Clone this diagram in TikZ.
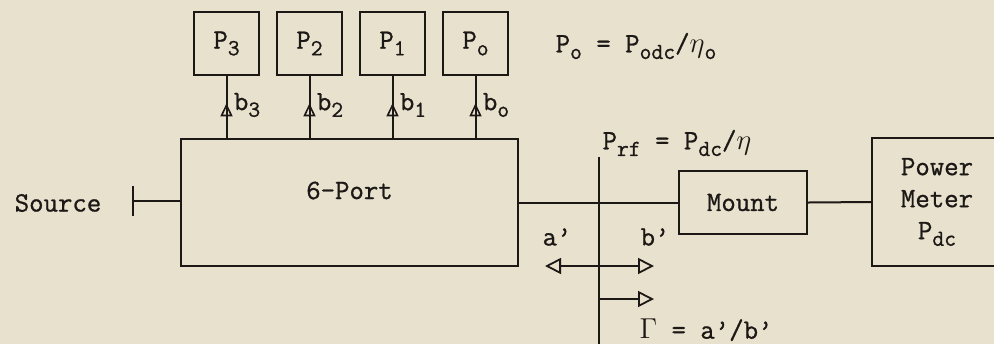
\documentclass[tikz,border=0pt]{standalone}
\usepackage{fontspec}
\setmonofont{Latin Modern Mono}[FakeBold=0.9]
\usepackage{tikz}
\usetikzlibrary{arrows.meta, positioning, calc}

\definecolor{paper}{RGB}{232,225,205}
\definecolor{ink}{RGB}{28,24,22}
\newcommand{\lowtxt}[1]{\raisebox{-0.55ex}{\fontsize{11.5}{13}\selectfont #1}}

\begin{document}
\begin{tikzpicture}[
    x=0.5pt, y=-0.5pt,
    color=ink,
    font=\ttfamily\fontsize{14}{16}\selectfont,
    box/.style={rectangle, draw, line width=1pt, inner sep=0pt, text centered},
    pbox/.style={box, minimum width=32.5pt, minimum height=31.5pt},
    wire/.style={line width=1pt},
    tri/.tip={Triangle[open, length=8pt, width=8pt, line width=0.9pt]},
    smalltri/.tip={Triangle[open, length=6.5pt, width=6pt, line width=0.8pt]},
    bnode/.style={anchor=west, inner sep=1pt}
]
    \clip (0,0) rectangle (994,344);
    \fill[paper] (0,0) rectangle (994,344);

    % six-port and detectors
    \node [box, minimum width=168.5pt, minimum height=63.5pt,
           label={[yshift=6pt]center:6-Port}] (port) at (349.5,202.5) {};
    \node [pbox] (p3) at (226.5,43.5) {P\lowtxt{3}};
    \node [pbox, right=8pt of p3] (p2) {P\lowtxt{2}};
    \node [pbox, right=8pt of p2] (p1) {P\lowtxt{1}};
    \node [pbox, right=8pt of p1] (p0) {P\lowtxt{o}};
    \node (p0eq) at (636,46) {P\lowtxt{o} = P\lowtxt{odc}/$\eta$\lowtxt{o}};

    \foreach \p in {p3, p2, p1, p0} {
        \draw [wire] (\p.south |- port.north) -- (\p.south);
        \draw [wire, -smalltri] (\p.south |- port.north) -- ($(\p.south |- port.north)!0.56!(\p.south)$);
    }
    \node [bnode] (b3) at ($(p3.south)+(5,29)$) {b\lowtxt{3}};
    \node [bnode] (b2) at ($(p2.south)+(5,29)$) {b\lowtxt{2}};
    \node [bnode] (b1) at ($(p1.south)+(5,29)$) {b\lowtxt{1}};
    \node [bnode] (b0) at ($(p0.south)+(5,29)$) {b\lowtxt{o}};

    % source side
    \node (source) at (58,203) {Source};
    \coordinate (srcend) at (132,201);
    \draw [wire, {Bar[width=15pt, line width=1pt]}-] (srcend) -- (srcend -| port.west);

    % mount and power meter
    \node [box, minimum width=64pt, minimum height=31.5pt] (mount) at (743,202.5) {Mount};
    \node [box, minimum width=65pt, minimum height=64pt, align=center] (meter) at (937,202)
        {Power\\Meter\\P\lowtxt{dc}};
    \draw [wire] (port.east) -- (mount.west);
    \draw [wire] (mount.east) -- (meter.west);

    % reference plane
    \coordinate (rtop) at (599,157);
    \coordinate (rbot) at (599,344);
    \draw [wire] (rtop) -- (rbot);
    \node (prf) at (677,143) {P\lowtxt{rf} = P\lowtxt{dc}/$\eta$};
    \node (aw) at (557,237) {a’};
    \node (bw) at (655,237) {b’};
    \coordinate (aend) at (545,266);
    \coordinate (bend) at (654,266);
    \draw [wire, tri-tri] (aend) -- (bend);
    \coordinate (gbeg) at (599,299);
    \coordinate (gend) at (654,299);
    \draw [wire, -tri] (gbeg) -- (gend);
    \node (gamma) at (706,330) {$\Gamma$ = a’/b’};
\end{tikzpicture}
\end{document}
